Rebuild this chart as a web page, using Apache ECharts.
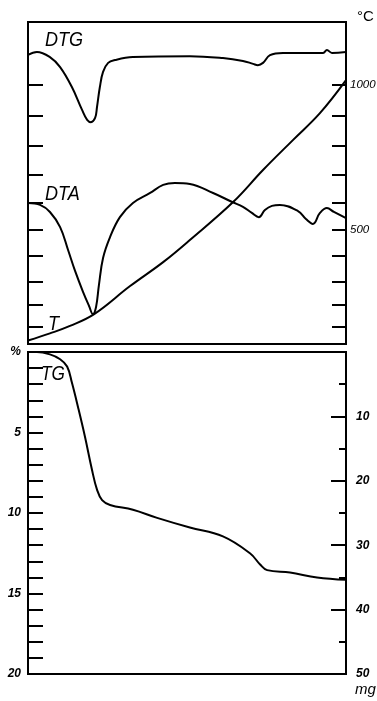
<!DOCTYPE html>
<html>
<head>
<meta charset="utf-8">
<script src="https://cdn.jsdelivr.net/npm/echarts@6/dist/echarts.min.js"></script>
<style>
html, body { margin: 0; padding: 0; background: #fff; }
#chart { width: 377px; height: 701px; }
</style>
</head>
<body>
<div id="chart"></div>
<script>
// time runs left to right, 0..100 (relative, no scale printed)
// DTG trace (relative deflection, 0 = bottom of upper panel, 100 = top)
const dtgTime = [0, 2.8, 6.9, 10.1, 13.8, 17.0, 18.6, 19.8, 21.1, 21.7, 22.6, 23.6, 25.2, 27.4, 33.0, 50.9, 61.3, 67.6, 70.8, 72.3, 73.9, 76.1, 80.2, 92.8, 94.0, 95.6, 100];
const dtgValue = [89.8, 90.7, 89.1, 86.0, 79.8, 72.7, 69.6, 68.9, 70.2, 73.6, 79.8, 84.5, 87.3, 88.2, 89.1, 89.4, 88.8, 87.9, 87.0, 86.6, 87.3, 89.7, 90.4, 90.4, 91.3, 90.4, 90.7];

// DTA trace (same relative deflection)
const dtaTime = [0, 3.8, 6.9, 10.1, 12.6, 14.8, 17.3, 19.2, 20.4, 21.4, 22.3, 23.6, 25.8, 28.9, 33.0, 38.4, 42.5, 46.2, 50.9, 58.2, 64.2, 67.6, 70.4, 72.6, 74.5, 76.7, 79.2, 84.9, 87.4, 89.6, 91.8, 94.0, 96.2, 100];
const dtaValue = [43.8, 43.2, 41.0, 36.3, 29.2, 22.7, 16.2, 11.8, 9.3, 11.5, 18.3, 26.7, 33.2, 39.4, 43.8, 46.9, 49.4, 50.0, 49.7, 46.9, 44.1, 42.6, 40.7, 39.4, 41.6, 42.9, 43.2, 41.3, 38.8, 37.3, 40.7, 42.2, 41.0, 39.1];

// T trace, degrees C
const tTime = [0, 6.9, 13.2, 20.8, 32.1, 42.5, 50.9, 64.5, 73.9, 83.3, 91.8, 100];
const tTemp = [20, 61, 103, 158, 280, 376, 461, 602, 716, 819, 909, 1016];

// TG trace, mass loss in %
const tgTime = [0, 2.8, 6.9, 10.1, 12.3, 13.8, 15.7, 17.9, 20.1, 21.7, 23.3, 25.8, 33.0, 40.6, 50.9, 61.3, 69.8, 73.0, 75.2, 82.4, 90.9, 100];
const tgLoss = [0, 0, 0.15, 0.45, 0.9, 1.9, 3.4, 5.25, 7.3, 8.55, 9.2, 9.5, 9.8, 10.3, 10.9, 11.45, 12.5, 13.2, 13.55, 13.7, 14.0, 14.15];

// temperature scale of the recorder is a Pt/PtRh thermocouple (emf in mV)
const scaleTemp = [0, 100, 200, 300, 400, 500, 600, 700, 800, 900, 1000, 1100];
const scaleEmf = [0, 0.646, 1.441, 2.323, 3.259, 4.233, 5.239, 6.275, 7.345, 8.449, 9.587, 10.757];
const tempTicks = [100, 200, 300, 400, 500, 600, 700, 800, 900, 1000];
const tempLabels = [500, 1000];

function toEmf(t) {
    for (let i = 1; i < scaleTemp.length; i++) {
        if (t <= scaleTemp[i]) {
            const k = (t - scaleTemp[i - 1]) / (scaleTemp[i] - scaleTemp[i - 1]);
            return scaleEmf[i - 1] + k * (scaleEmf[i] - scaleEmf[i - 1]);
        }
    }
    return scaleEmf[scaleEmf.length - 1];
}
function toTemp(e) {
    let best = 0;
    scaleEmf.forEach((v, i) => {
        if (Math.abs(v - e) < Math.abs(scaleEmf[best] - e)) best = i;
    });
    return scaleTemp[best];
}
const zip = (a, b) => a.map((v, i) => [v, b[i]]);

const INK = '#000';
const FONT = '"Liberation Sans", Arial, sans-serif';
const EMF_MAX = 11.93;

const myChart = echarts.init(document.getElementById('chart'), null, { renderer: 'canvas' });

const curve = {
    type: 'line',
    showSymbol: false,
    smooth: 0.4,
    silent: true,
    lineStyle: { color: INK, width: 2 }
};

// curve names, slightly condensed italic like the original lettering
const curveLabel = (text, left, top, size) => ({
    type: 'text', left, top, scaleX: 0.86, silent: true,
    style: { text, fill: INK, fontSize: size, fontStyle: 'italic', fontFamily: FONT }
});

myChart.setOption({
    animation: false,
    backgroundColor: '#fff',
    grid: [
        { left: 28, top: 22, width: 318, height: 322, outerBoundsMode: 'none', containLabel: false, show: true, borderColor: INK, borderWidth: 2, backgroundColor: 'transparent' },
        { left: 28, top: 352, width: 318, height: 322, outerBoundsMode: 'none', containLabel: false, show: true, borderColor: INK, borderWidth: 2, backgroundColor: 'transparent' }
    ],
    xAxis: [
        { type: 'value', gridIndex: 0, min: 0, max: 100, show: false },
        { type: 'value', gridIndex: 1, min: 0, max: 100, show: false }
    ],
    yAxis: [
        {
            type: 'value', gridIndex: 0, position: 'left', min: 0, max: EMF_MAX,
            axisLine: { show: true, lineStyle: { color: INK, width: 2 } },
            axisTick: { show: true, inside: true, length: 15, customValues: tempTicks.map(toEmf), lineStyle: { color: INK, width: 2 } },
            axisLabel: { show: false },
            splitLine: { show: false }
        },
        {
            type: 'value', gridIndex: 0, position: 'right', min: 0, max: EMF_MAX,
            axisLine: { show: true, lineStyle: { color: INK, width: 2 } },
            axisTick: { show: true, inside: true, length: 14, customValues: tempTicks.map(toEmf), lineStyle: { color: INK, width: 2 } },
            axisLabel: {
                show: true, customValues: tempLabels.map(toEmf), margin: 4,
                formatter: (v) => String(toTemp(v)),
                color: INK, fontSize: 11.5, fontStyle: 'italic', fontFamily: FONT
            },
            splitLine: { show: false }
        },
        { type: 'value', gridIndex: 0, min: 0, max: 100, show: false },
        {
            type: 'value', gridIndex: 1, position: 'left', inverse: true, min: 0, max: 20, interval: 1,
            axisLine: { show: true, lineStyle: { color: INK, width: 2 } },
            axisTick: { show: true, inside: true, length: 15, lineStyle: { color: INK, width: 2 } },
            axisLabel: {
                show: true, margin: 7,
                formatter: (v) => (v === 0 ? '%' : (v % 5 === 0 ? String(v) : '')),
                color: INK, fontSize: 12, fontStyle: 'italic', fontWeight: 'bold', fontFamily: FONT
            },
            splitLine: { show: false }
        },
        {
            type: 'value', gridIndex: 1, position: 'right', inverse: true, min: 0, max: 50, interval: 10,
            axisLine: { show: true, lineStyle: { color: INK, width: 2 } },
            axisTick: { show: true, inside: true, length: 15, lineStyle: { color: INK, width: 2 } },
            minorTick: { show: true, splitNumber: 2, length: 7, lineStyle: { color: INK, width: 2 } },
            axisLabel: {
                show: true, margin: 10,
                formatter: (v) => (v === 0 ? '' : String(v)),
                color: INK, fontSize: 12, fontStyle: 'italic', fontWeight: 'bold', fontFamily: FONT
            },
            splitLine: { show: false }
        }
    ],
    graphic: [
        curveLabel('DTG', 45, 30, 21),
        curveLabel('DTA', 45, 184, 21),
        curveLabel('T', 48, 314, 21),
        curveLabel('TG', 41, 364, 20),
        { type: 'text', left: 357, top: 9, silent: true, style: { text: '°C', fill: INK, fontSize: 15, fontFamily: FONT } },
        { type: 'text', left: 355, top: 682, silent: true, style: { text: 'mg', fill: INK, fontSize: 15, fontStyle: 'italic', fontFamily: FONT } }
    ],
    series: [
        Object.assign({}, curve, { name: 'DTG', xAxisIndex: 0, yAxisIndex: 2, data: zip(dtgTime, dtgValue) }),
        Object.assign({}, curve, { name: 'DTA', xAxisIndex: 0, yAxisIndex: 2, data: zip(dtaTime, dtaValue) }),
        Object.assign({}, curve, { name: 'T', xAxisIndex: 0, yAxisIndex: 1, data: zip(tTime, tTemp.map(toEmf)) }),
        Object.assign({}, curve, { name: 'TG', xAxisIndex: 1, yAxisIndex: 3, data: zip(tgTime, tgLoss) })
    ]
});
</script>
</body>
</html>
